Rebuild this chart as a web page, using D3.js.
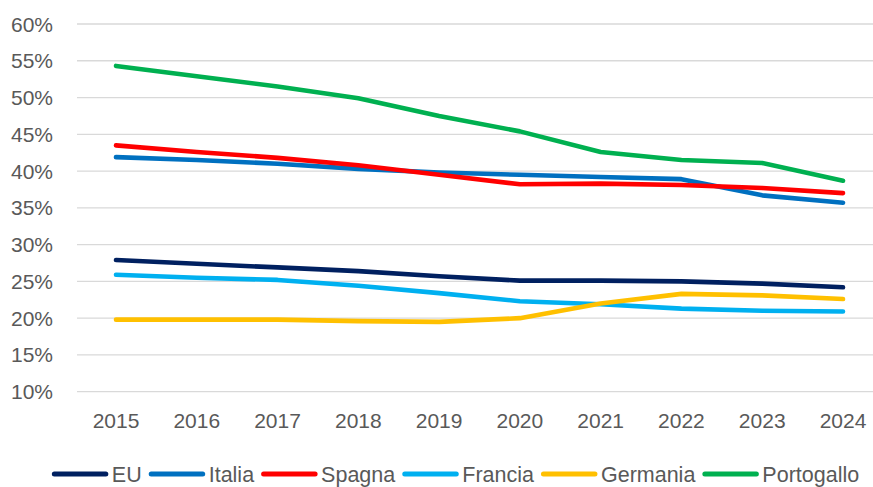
<!DOCTYPE html>
<html>
<head>
<meta charset="utf-8">
<script src="https://cdn.jsdelivr.net/npm/d3@7"></script>
<style>
  body { margin: 0; background: #fff; }
  svg text { font-family: "Liberation Sans", Arial, sans-serif; fill: #595959; }
</style>
</head>
<body>
<svg id="chart" width="873" height="487"></svg>
<script>
const years = ["2015", "2016", "2017", "2018", "2019", "2020", "2021", "2022", "2023", "2024"];
const yTicks = [10, 15, 20, 25, 30, 35, 40, 45, 50, 55, 60];

const seriesNames = ["EU", "Italia", "Spagna", "Francia", "Germania", "Portogallo"];
const seriesColors = ["#002060", "#0070C0", "#FF0000", "#00B0F0", "#FFC000", "#00B050"];

const euValues = [27.9, 27.4, 26.9, 26.4, 25.7, 25.1, 25.1, 25.0, 24.7, 24.2];
const italiaValues = [41.9, 41.5, 41.0, 40.3, 39.8, 39.5, 39.2, 38.9, 36.7, 35.7];
const spagnaValues = [43.5, 42.6, 41.8, 40.8, 39.5, 38.2, 38.3, 38.1, 37.7, 37.0];
const franciaValues = [25.9, 25.5, 25.2, 24.4, 23.4, 22.3, 21.9, 21.3, 21.0, 20.9];
const germaniaValues = [19.8, 19.8, 19.8, 19.6, 19.5, 20.0, 22.0, 23.3, 23.1, 22.6];
const portogalloValues = [54.3, 52.9, 51.5, 49.9, 47.5, 45.4, 42.6, 41.5, 41.1, 38.7];

const allValues = [euValues, italiaValues, spagnaValues, franciaValues, germaniaValues, portogalloValues];

const svg = d3.select("#chart");

const plotLeft = 77, plotRight = 873;
const x = d3.scalePoint().domain(years).range([116, 843]);
const y = d3.scaleLinear().domain([10, 60]).range([391.7, 24]);

// gridlines
svg.append("g")
    .selectAll("line")
    .data(yTicks)
    .enter()
    .append("line")
        .attr("x1", plotLeft)
        .attr("x2", plotRight)
        .attr("y1", d => y(d))
        .attr("y2", d => y(d))
        .attr("stroke", "#d9d9d9")
        .attr("stroke-width", 1.3);

// y axis labels
svg.append("g")
    .selectAll("text")
    .data(yTicks)
    .enter()
    .append("text")
        .attr("x", 53)
        .attr("y", d => y(d))
        .attr("dy", "0.36em")
        .attr("text-anchor", "end")
        .attr("font-size", 21)
        .text(d => d + "%");

// x axis labels
svg.append("g")
    .selectAll("text")
    .data(years)
    .enter()
    .append("text")
        .attr("x", d => x(d))
        .attr("y", 428)
        .attr("text-anchor", "middle")
        .attr("font-size", 21)
        .text(d => d);

// lines
const line = d3.line()
    .x((d, i) => x(years[i]))
    .y(d => y(d));

svg.append("g")
    .selectAll("path")
    .data(allValues)
    .enter()
    .append("path")
        .attr("d", d => line(d))
        .attr("fill", "none")
        .attr("stroke", (d, i) => seriesColors[i])
        .attr("stroke-width", 4.6)
        .attr("stroke-linecap", "round")
        .attr("stroke-linejoin", "round");

// legend
const legend = svg.append("g");
const legendY = 474;
let cursor = 0;
seriesNames.forEach((name, i) => {
    let item = legend.append("g").attr("transform", "translate(" + cursor + ",0)");
    item.append("line")
        .attr("x1", 2.5).attr("x2", 54)
        .attr("y1", legendY).attr("y2", legendY)
        .attr("stroke", seriesColors[i])
        .attr("stroke-width", 5)
        .attr("stroke-linecap", "round");
    let label = item.append("text")
        .attr("x", 60)
        .attr("y", legendY)
        .attr("dy", "0.36em")
        .attr("font-size", 21.5)
        .text(name);
    cursor += 60 + label.node().getComputedTextLength() + 7;
});
let legendWidth = cursor - 7;
legend.attr("transform", "translate(" + (455.5 - legendWidth / 2) + ",0)");
</script>
</body>
</html>
